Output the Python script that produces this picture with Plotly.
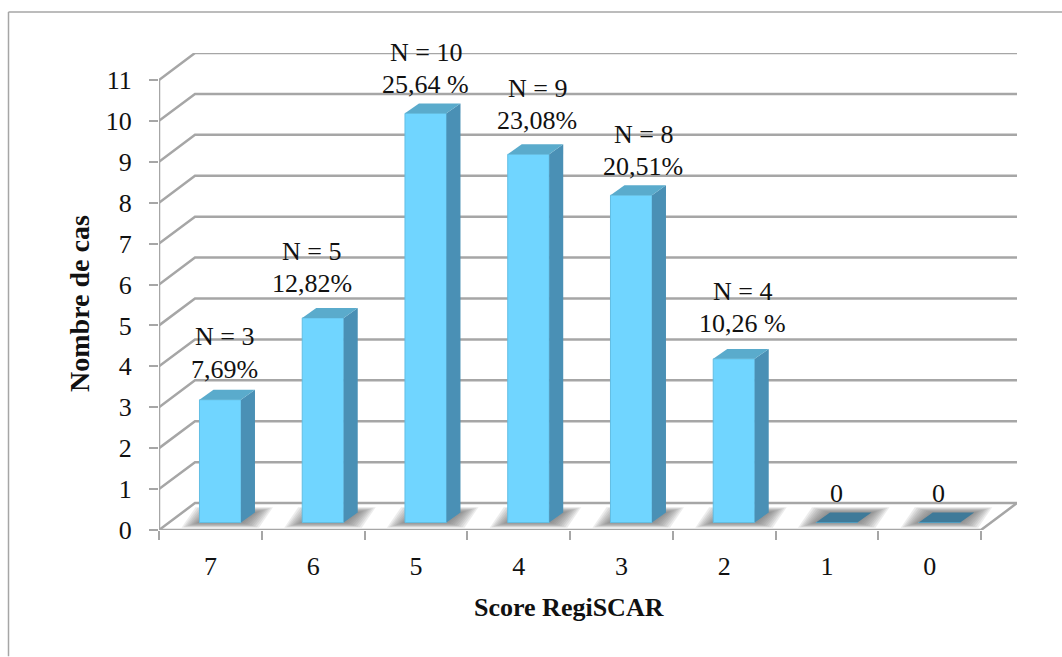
import plotly.graph_objects as go

# ---- chart data ----
categories = ["7", "6", "5", "4", "3", "2", "1", "0"]
counts = [3, 5, 10, 9, 8, 4, 0, 0]
label_line1 = ["N = 3", "N = 5", "N = 10", "N = 9", "N = 8", "N = 4", "0", "0"]
label_line2 = ["7,69%", "12,82%", "25,64 %", "23,08%", "20,51%", "10,26 %", "", ""]
label_dx = [4, -11, 0, 9, 12, 9, 0, -1]
line1_dy = [63, 66, 61, 66, 61, 67, 29, 29]
line2_dy = [30, 34, 29, 34, 29, 35, 0, 0]
y_ticks = list(range(0, 12))

# ---- geometry of the pseudo-3D frame (pixels) ----
W, H = 1062, 657
LEFT, BOTTOM = 159, 530.5
CAT_PX, UNIT_PX = 102.75, 41.0
WALL_DX, WALL_DY = 36 / CAT_PX, 27 / UNIT_PX
BAR_DX, BAR_DY = 14 / CAT_PX, 10 / UNIT_PX
BAR_LIFT = 7.5 / UNIT_PX
BAR_W = 41.5 / CAT_PX
BAR_OFF = -10.9 / CAT_PX
X_MIN, X_MAX = -0.5, len(categories) - 0.5

GRID = "#A6A6A6"
FRONT, SIDE, TOP, ZERO = "#70D5FF", "#4A90B5", "#5AABCC", "#3F7A99"
FONT = "Liberation Serif"
TEXT = "#111111"
SIZE = 26

right_px = LEFT + (X_MAX + WALL_DX - X_MIN) * CAT_PX
top_px = BOTTOM - (y_ticks[-1] + WALL_DY) * UNIT_PX
pw, ph = right_px - LEFT, BOTTOM - top_px


def paper_x(px):
    return (px - LEFT) / pw


def paper_y(py):
    return (BOTTOM - py) / ph


fig = go.Figure()


def poly(xs, ys, color, opacity=1.0, axes=("x2", "y2")):
    fig.add_trace(go.Scatter(x=xs, y=ys, mode="lines", fill="toself", fillcolor=color,
                             line=dict(width=0), opacity=opacity, hoverinfo="skip",
                             showlegend=False, xaxis=axes[0], yaxis=axes[1]))


# gridlines on side and back wall
for t in y_ticks:
    fig.add_trace(go.Scatter(x=[X_MIN, X_MIN + WALL_DX, X_MAX + WALL_DX], y=[t, t + WALL_DY, t + WALL_DY],
                             mode="lines", line=dict(color=GRID, width=2.5), hoverinfo="skip",
                             showlegend=False))
# front floor edges and y axis line
fig.add_trace(go.Scatter(x=[X_MIN, X_MAX, X_MAX + WALL_DX], y=[0, 0, WALL_DY], mode="lines",
                         line=dict(color=GRID, width=2.5), hoverinfo="skip", showlegend=False))
fig.add_trace(go.Scatter(x=[X_MIN, X_MIN], y=[0, y_ticks[-1]], mode="lines",
                         line=dict(color=GRID, width=2.5), hoverinfo="skip", showlegend=False))

# soft floor shadows: nested translucent parallelograms
for i in range(len(categories)):
    x0 = i + BAR_OFF
    x1 = x0 + BAR_W
    y0 = BAR_LIFT
    for k in range(8, -1, -1):
        gx = (2 + k * 2.0) / CAT_PX
        gy = (0.5 + k * 0.6) / UNIT_PX
        poly([x0 - gx, x1 + gx, x1 + BAR_DX + gx, x0 + BAR_DX - gx],
             [y0 - gy, y0 - gy, y0 + BAR_DY + gy, y0 + BAR_DY + gy],
             "#707070", 0.13, ("x", "y"))

# bar fronts
fig.add_trace(go.Bar(x=list(range(len(categories))), y=counts, base=BAR_LIFT, width=BAR_W,
                     offset=BAR_OFF, marker=dict(color=FRONT, line=dict(color="#62BEE4", width=1)),
                     hoverinfo="skip", showlegend=False, xaxis="x2", yaxis="y2"))

# bar tops and sides
for i, v in enumerate(counts):
    x0 = i + BAR_OFF
    x1 = x0 + BAR_W
    y1 = v + BAR_LIFT
    if v > 0:
        poly([x1, x1 + BAR_DX, x1 + BAR_DX, x1], [BAR_LIFT, BAR_LIFT + BAR_DY, y1 + BAR_DY, y1], SIDE)
    poly([x0, x1, x1 + BAR_DX, x0 + BAR_DX], [y1, y1, y1 + BAR_DY, y1 + BAR_DY], TOP if v > 0 else ZERO)

# data labels
ann = []
for i, v in enumerate(counts):
    for text, dy in ((label_line1[i], line1_dy[i]), (label_line2[i], line2_dy[i])):
        if text:
            ann.append(dict(x=i + BAR_OFF + BAR_W / 2, y=v + BAR_LIFT, xref="x2", yref="y2", text=text,
                            showarrow=False, xanchor="center", yanchor="middle", align="center",
                            xshift=label_dx[i], yshift=dy, font=dict(family=FONT, size=SIZE, color=TEXT)))
# axis titles
ann.append(dict(x=paper_x(569), y=paper_y(608), xref="paper", yref="paper", text="<b>Score RegiSCAR</b>",
                showarrow=False, xanchor="center", yanchor="middle",
                font=dict(family=FONT, size=SIZE, color=TEXT)))
ann.append(dict(x=paper_x(80), y=paper_y(304), xref="paper", yref="paper", text="<b>Nombre de cas</b>",
                textangle=-90, showarrow=False, xanchor="center", yanchor="middle",
                font=dict(family=FONT, size=28, color=TEXT)))

x_range = [X_MIN, X_MAX + WALL_DX]
y_range = [0, y_ticks[-1] + WALL_DY]

fig.update_layout(
    width=W, height=H, autosize=False, paper_bgcolor="white", plot_bgcolor="white",
    margin=dict(l=LEFT, r=W - right_px, t=top_px, b=H - BOTTOM, pad=0),
    showlegend=False, annotations=ann,
    font=dict(family=FONT, size=SIZE, color=TEXT),
    xaxis=dict(range=x_range, tickmode="array", tickvals=list(range(len(categories))), ticktext=categories,
               ticks="", showgrid=False, zeroline=False, showline=False, ticklabelstandoff=18,
               minor=dict(tick0=X_MIN, dtick=1, ticks="outside", ticklen=9, tickwidth=2, tickcolor=GRID,
                          showgrid=False)),
    yaxis=dict(range=y_range, tickmode="array", tickvals=y_ticks, ticks="outside", ticklen=9, tickwidth=2,
               tickcolor=GRID, showgrid=False, zeroline=False, showline=False, ticklabelstandoff=12),
    xaxis2=dict(range=x_range, overlaying="x", visible=False, anchor="y2"),
    yaxis2=dict(range=y_range, overlaying="y", visible=False, anchor="x2"),
    shapes=[
        dict(type="line", xref="paper", yref="paper", x0=paper_x(8.5), x1=paper_x(8.5),
             y0=paper_y(H), y1=paper_y(11.5), line=dict(color=GRID, width=1.5)),
        dict(type="line", xref="paper", yref="paper", x0=paper_x(8.5), x1=paper_x(W),
             y0=paper_y(11.5), y1=paper_y(11.5), line=dict(color=GRID, width=1.5)),
    ],
)

fig.write_html("out.html", config=dict(displayModeBar=False),
               post_script="document.body.style.margin='0';document.body.style.overflow='hidden';")
